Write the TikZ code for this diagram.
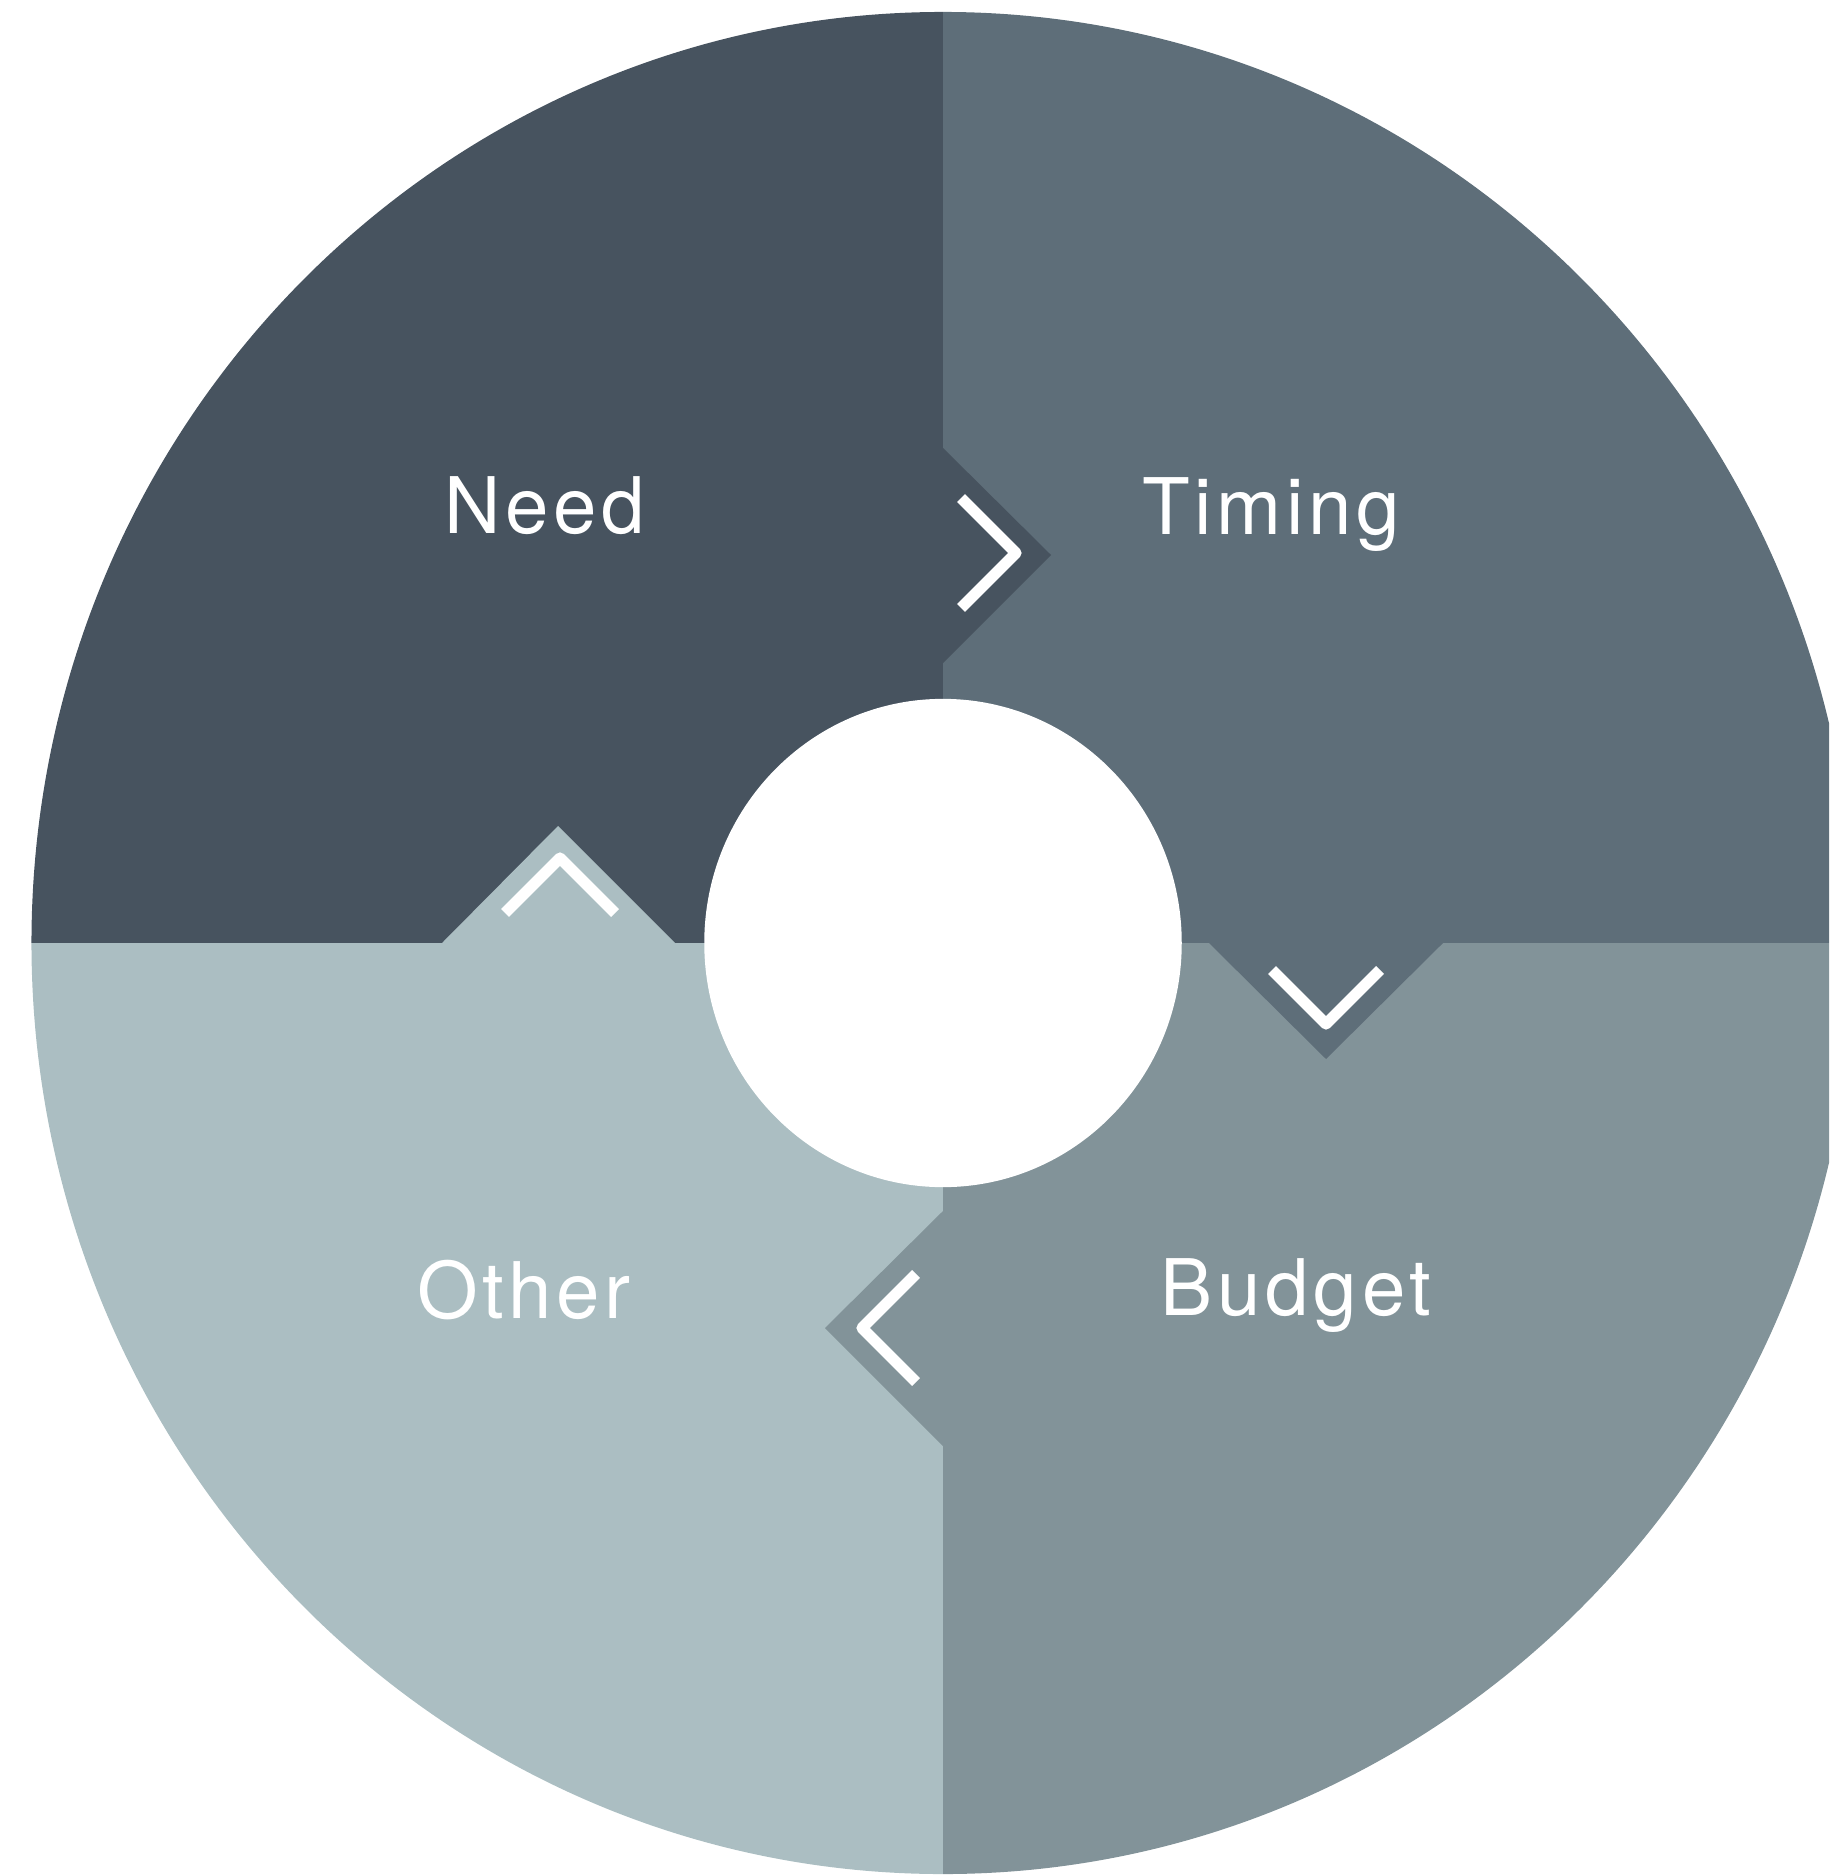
\documentclass[tikz,border=0pt]{standalone}
\usepackage{fontspec}
\setmainfont{TeX Gyre Heros}
\newfontfamily\lblfont[LetterSpace=6]{TeX Gyre Heros}
\definecolor{needcol}{HTML}{47535F}
\definecolor{timingcol}{HTML}{5E6E79}
\definecolor{budgetcol}{HTML}{829399}
\definecolor{othercol}{HTML}{ABBEC2}
\begin{document}
\begin{tikzpicture}[x=0.01cm, y=-0.01cm,
    chev/.style={white, line width=3.2pt, line join=round},
    lbl/.style={white, anchor=base, inner sep=0pt, font=\lblfont\fontsize{22.2}{26}\selectfont}]
    \useasboundingbox (0,0) rectangle (1829,1876);
    \clip (0,0) rectangle (1829,1876);
    % quarters
    \begin{scope}
        \clip (943,943) ellipse [x radius=9.11cm, y radius=9.305cm];
        \fill[needcol] (0,0) rectangle (943,943);
        \fill[timingcol] (943,0) rectangle (1900,943);
        \fill[budgetcol] (943,943) rectangle (1900,1900);
        \fill[othercol] (0,943) rectangle (943,1900);
    \end{scope}
    % notches
    \fill[needcol] (943,448) -- (1051,555) -- (943,663) -- cycle;
    \fill[timingcol] (1209,943) -- (1326,1059) -- (1443,943) -- cycle;
    \fill[budgetcol] (944,1210) -- (825,1328) -- (944,1447) -- cycle;
    \fill[othercol] (442,943) -- (558,826) -- (675,943) -- cycle;
    % hole
    \fill[white] (943,943) ellipse [x radius=2.386cm, y radius=2.44cm];
    % chevrons
    \draw[chev] (961,498) -- (1016,553) -- (961,608);
    \draw[chev] (1272,970) -- (1326,1024) -- (1380,970);
    \draw[chev] (916,1274) -- (862,1328) -- (916,1382);
    \draw[chev] (505,913) -- (560,858) -- (615,913);
    % labels
    \node[lbl] (need) at (545,533) {Need};
    \node[lbl] (timing) at (1271,534) {Timing};
    \node[lbl] (budget) at (1296,1315) {Budget};
    \node[lbl] (other) at (524,1318) {Other};
\end{tikzpicture}
\end{document}
